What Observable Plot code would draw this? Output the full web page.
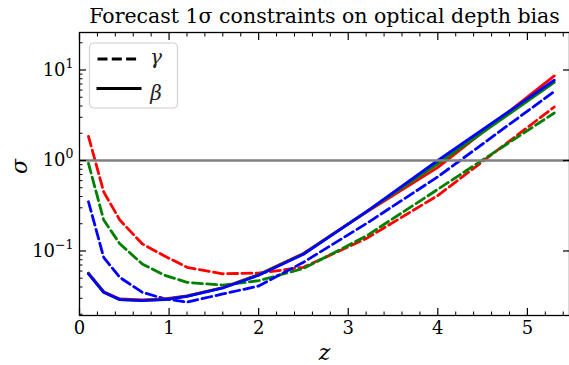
<!DOCTYPE html>
<html><head><meta charset="utf-8">
<script src="https://cdn.jsdelivr.net/npm/d3@7"></script>
<script src="https://cdn.jsdelivr.net/npm/@observablehq/plot@0.6"></script>
<style>
html,body{margin:0;padding:0;background:#fff;}
#chart{position:relative;width:569px;height:365px;}
#chart svg, #chart svg text{font-family:"DejaVu Serif", serif !important;}
</style></head><body><div id="chart"></div>
<script>
const FONT = "DejaVu Serif";
const titleText = "Forecast 1σ constraints on optical depth bias";
const z = [0.1, 0.27, 0.45, 0.7, 0.95, 1.2, 1.6, 2.0, 2.5, 3.2, 4.0, 5.3];
const gammaRed   = [1.85, 0.45, 0.22, 0.12, 0.088, 0.066, 0.056, 0.057, 0.066, 0.137, 0.41, 3.9];
const gammaGreen = [0.93, 0.22, 0.12, 0.072, 0.054, 0.045, 0.042, 0.047, 0.064, 0.146, 0.48, 3.35];
const gammaBlue  = [0.35, 0.085, 0.051, 0.035, 0.0296, 0.0272, 0.0335, 0.041, 0.075, 0.2, 0.66, 5.8];
const betaRed    = [0.057, 0.0355, 0.0295, 0.0288, 0.0296, 0.032, 0.0395, 0.055, 0.094, 0.268, 0.84, 8.6];
const betaGreen  = [0.0565, 0.035, 0.029, 0.0285, 0.0292, 0.0317, 0.0392, 0.0545, 0.093, 0.27, 0.92, 7.3];
const betaBlue   = [0.056, 0.035, 0.029, 0.0283, 0.029, 0.0315, 0.039, 0.054, 0.092, 0.27, 1.0, 7.7];
const xMajor = [0, 1, 2, 3, 4, 5];
const xMinor = [0.2,0.4,0.6,0.8,1.2,1.4,1.6,1.8,2.2,2.4,2.6,2.8,3.2,3.4,3.6,3.8,4.2,4.4,4.6,4.8,5.2,5.4];
const yMajor = [0.1, 1, 10];
const yMinor = [0.02,0.03,0.04,0.05,0.06,0.07,0.08,0.09,0.2,0.3,0.4,0.5,0.6,0.7,0.8,0.9,2,3,4,5,6,7,8,9,20];
const yTickText = {"0.1": "10|−1", "1": "10|0", "10": "10|1"};
const legendItems = [{label: "γ", dash: true}, {label: "β", dash: false}];

const series = [
  {vals: gammaRed, color: "#ff0000", dash: true},
  {vals: gammaGreen, color: "#008000", dash: true},
  {vals: gammaBlue, color: "#0000ff", dash: true},
  {vals: betaRed, color: "#ff0000", dash: false},
  {vals: betaGreen, color: "#008000", dash: false},
  {vals: betaBlue, color: "#0000ff", dash: false}
];
const lineMarks = series.map(s => Plot.line(z.map((zz, i) => ({z: zz, s: s.vals[i]})), {
  x: "z", y: "s", stroke: s.color, strokeWidth: 2.8,
  strokeDasharray: s.dash ? "10,4.3" : null
}));

const chart = Plot.plot({
  width: 569, height: 365,
  marginLeft: 79, marginRight: 0, marginTop: 32, marginBottom: 50,
  x: {domain: [0, 5.47]},
  y: {type: "log", domain: [0.01937, 25.96]},
  style: {fontFamily: FONT, fontSize: "18px", color: "black", background: "white", overflow: "visible"},
  marks: [
    ...lineMarks,
    Plot.ruleY([1], {stroke: "#808080", strokeWidth: 2.5}),
    Plot.frame({stroke: "black", strokeWidth: 1.3}),
    Plot.axisX({ticks: xMajor, tickSize: -7, fill: "none", strokeWidth: 1.2, label: null}),
    Plot.axisX({ticks: xMinor, tickSize: -3.5, fill: "none", strokeWidth: 1, label: null}),
    Plot.axisX({anchor: "top", ticks: xMajor, tickSize: -7, fill: "none", strokeWidth: 1.2, label: null}),
    Plot.axisX({anchor: "top", ticks: xMinor, tickSize: -3.5, fill: "none", strokeWidth: 1, label: null}),
    Plot.axisX({ticks: xMajor, tickSize: 0, tickPadding: 6, stroke: "none", label: null, tickFormat: d => String(d), fontSize: 18, fontFamily: FONT}),
    Plot.axisY({ticks: yMajor, tickSize: -7, fill: "none", strokeWidth: 1.2, label: null}),
    Plot.axisY({ticks: yMinor, tickSize: -3.5, fill: "none", strokeWidth: 1, label: null}),
    Plot.axisY({anchor: "right", ticks: yMajor, tickSize: -7, fill: "none", strokeWidth: 1.2, label: null}),
    Plot.axisY({ticks: yMajor, tickSize: 0, tickPadding: 6, stroke: "none", label: null, tickFormat: d => yTickText[String(d)], fontSize: 18, fontFamily: FONT}),
    Plot.text([titleText], {text: d => d, frameAnchor: "top", lineAnchor: "middle", dy: -16, fontSize: 20.5, fontFamily: FONT}),
    Plot.text(["z"], {text: d => d, frameAnchor: "bottom", lineAnchor: "middle", dy: 37, fontSize: 22, fontStyle: "italic", fontFamily: FONT}),
    Plot.text(["σ"], {text: d => d, frameAnchor: "left", lineAnchor: "middle", dx: -60, rotate: -90, fontSize: 22, fontStyle: "italic", fontFamily: FONT})
  ]
});

const svg = d3.select(chart);
// superscripts for log tick labels
svg.selectAll('g[aria-label="y-axis tick label"] text').each(function() {
  const t = d3.select(this);
  const s = t.text();
  if (s.includes("|")) {
    const [base, exp] = s.split("|");
    t.text(null);
    t.append("tspan").text(base);
    t.append("tspan").attr("dy", -8).attr("font-size", 12.5).text(exp);
  }
});
// legend
const lg = svg.append("g").attr("font-family", FONT);
lg.append("rect").attr("x", 89.5).attr("y", 43).attr("width", 88).attr("height", 65).attr("rx", 4)
  .attr("fill", "white").attr("fill-opacity", 0.8).attr("stroke", "#cccccc").attr("stroke-width", 1);
legendItems.forEach((it, i) => {
  const y = i === 0 ? 59 : 88.5;
  lg.append("line").attr("x1", it.dash ? 97.5 : 96.5).attr("x2", it.dash ? 138.5 : 141.5)
    .attr("y1", y).attr("y2", y).attr("stroke", "black").attr("stroke-width", 2.8)
    .attr("stroke-dasharray", it.dash ? "10,4.3" : null);
  lg.append("text").attr("x", 156).attr("y", i === 0 ? 64 : 99.5).attr("font-size", 20)
    .attr("font-style", "italic").attr("fill", "#222").text(it.label);
});
document.getElementById("chart").appendChild(chart);
</script>
</body></html>
